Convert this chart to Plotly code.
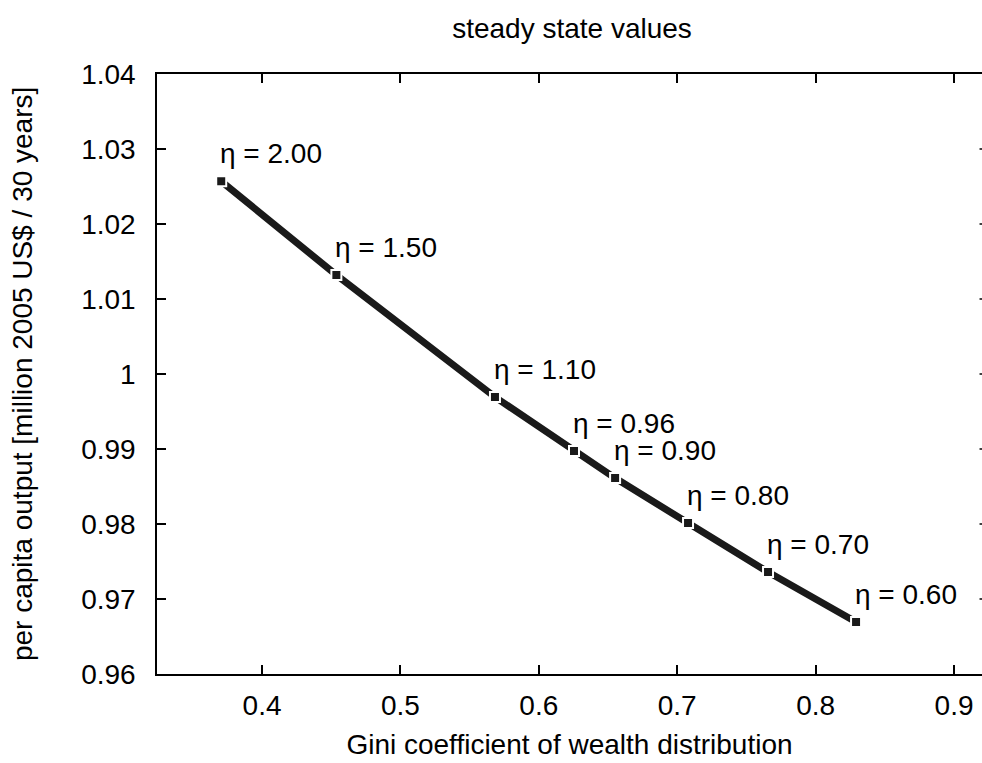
import plotly.graph_objects as go

# Steady-state results for several values of eta
eta_labels = ["2.00", "1.50", "1.10", "0.96", "0.90", "0.80", "0.70", "0.60"]
gini = [0.3705, 0.4537, 0.5683, 0.6254, 0.6551, 0.7078, 0.7656, 0.8292]
output = [1.0257, 1.0132, 0.99693, 0.98973, 0.98613, 0.98013, 0.97360, 0.96693]

x_ticks = [0.4, 0.5, 0.6, 0.7, 0.8, 0.9]
y_ticks = [0.96, 0.97, 0.98, 0.99, 1.0, 1.01, 1.02, 1.03, 1.04]
y_tick_text = ["0.96", "0.97", "0.98", "0.99", "1", "1.01", "1.02", "1.03", "1.04"]

FONT = "Liberation Sans, Arial, Helvetica, sans-serif"
INK = "#1a1a1a"
FS = 28

fig = go.Figure()
fig.add_trace(go.Scatter(
    x=gini, y=output, mode="lines+markers",
    line=dict(color=INK, width=7),
    marker=dict(symbol="square", size=10, color=INK,
                line=dict(color="white", width=2)),
    hoverinfo="x+y", showlegend=False,
))

for g, o, lab in zip(gini, output, eta_labels):
    fig.add_annotation(
        x=g, y=o, text=f"η = {lab}", showarrow=False,
        xanchor="left", yanchor="middle", xshift=-3, yshift=28,
        font=dict(family=FONT, size=FS, color="black"),
    )

# vertical axis title
fig.add_annotation(
    xref="paper", yref="paper", x=-0.1636, y=0.5,
    text="per capita output [million 2005 US$ / 30 years]",
    textangle=-90, showarrow=False, xanchor="center", yanchor="middle",
    font=dict(family=FONT, size=FS, color="black"),
)

# short inward ticks on the right-hand frame edge
for v in y_ticks[1:-1]:
    fig.add_shape(type="line", xref="paper", yref="y",
                  x0=0.997, x1=1.0, y0=v, y1=v,
                  line=dict(color="black", width=1.5))

fig.update_layout(
    width=982, height=763,
    margin=dict(l=157, r=0, t=74, b=89),
    paper_bgcolor="white", plot_bgcolor="white",
    font=dict(family=FONT, size=FS, color="black"),
    title=dict(text="steady state values", x=0.5825, xanchor="center",
               y=0.963, yanchor="middle",
               font=dict(family=FONT, size=FS, color="black")),
)
fig.update_xaxes(
    range=[0.3241, 0.9202], tickvals=x_ticks,
    ticktext=[f"{t:g}" for t in x_ticks],
    ticks="inside", ticklen=9, tickwidth=1.5, tickcolor="black",
    showline=True, linecolor="black", linewidth=1.5, mirror="ticks",
    showgrid=False, zeroline=False, ticklabelstandoff=6,
    tickfont=dict(family=FONT, size=FS),
    title=dict(text="Gini coefficient of wealth distribution", standoff=14,
               font=dict(family=FONT, size=FS)),
)
fig.update_yaxes(
    range=[0.96, 1.04], tickvals=y_ticks, ticktext=y_tick_text,
    ticks="inside", ticklen=9, tickwidth=1.5, tickcolor="black",
    showline=True, linecolor="black", linewidth=1.5, mirror=False,
    showgrid=False, zeroline=False, ticklabelstandoff=14,
    tickfont=dict(family=FONT, size=FS),
)

fig.write_html("out.html")
